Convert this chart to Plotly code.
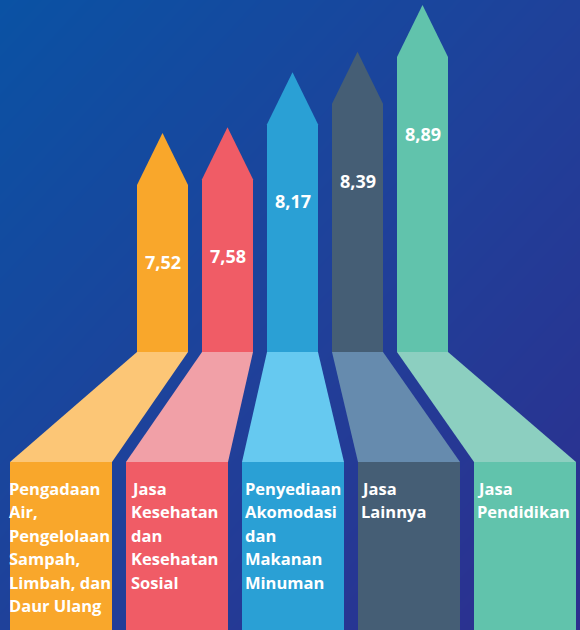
import plotly.graph_objects as go

# data
categories = [
    "Pengadaan\nAir,\nPengelolaan\nSampah,\nLimbah, dan\nDaur Ulang",
    "Jasa\nKesehatan\ndan\nKesehatan\nSosial",
    "Penyediaan\nAkomodasi\ndan\nMakanan\nMinuman",
    "Jasa\nLainnya",
    "Jasa\nPendidikan",
]
values = [7.52, 7.58, 8.17, 8.39, 8.89]
value_labels = ["7,52", "7,58", "8,17", "8,39", "8,89"]

arrow_colors = ["#F9A72B", "#F05C66", "#2AA0D5", "#455E75", "#61C3AC"]
ramp_colors = ["#FCC676", "#F1A0A7", "#66C9F0", "#668BAE", "#8CCFC0"]

# layout (pixels)
W, H = 580, 630
PXU = 93.4                  # px per value unit
Y_TOP = 9.5
Y_BOT = Y_TOP - H / PXU
SHAFT_X0, SHAFT_STEP, SHAFT_HW = 162.5, 65, 25.5
BOX_X0, BOX_STEP, BOX_HW = 61, 116, 51
HEAD = 52 / PXU
SHAFT_BOTTOM = Y_TOP - 352 / PXU
BOX_TOP = Y_TOP - 462 / PXU
TEXT_PAD = [-3, 3, 1, 1, 1]
FONT = "Open Sans"

fig = go.Figure()

# background gradient
fig.add_trace(go.Heatmap(
    x=[0, W], y=[Y_BOT, Y_TOP],
    z=[[0.5, 1.0], [0.0, 0.5]],
    zsmooth="best",
    colorscale=[[0, "#0A52A4"], [0.5, "#1F419A"], [1, "#2D2E8E"]],
    showscale=False, hoverinfo="skip",
))

for i, (cat, v) in enumerate(zip(categories, values)):
    cx = SHAFT_X0 + i * SHAFT_STEP
    bx = BOX_X0 + i * BOX_STEP

    # box at the bottom
    fig.add_trace(go.Scatter(
        x=[bx - BOX_HW, bx + BOX_HW, bx + BOX_HW, bx - BOX_HW, bx - BOX_HW],
        y=[BOX_TOP, BOX_TOP, Y_BOT, Y_BOT, BOX_TOP],
        fill="toself", fillcolor=arrow_colors[i], mode="lines",
        line=dict(width=0), hoverinfo="skip", showlegend=False,
    ))
    # perspective ramp
    fig.add_trace(go.Scatter(
        x=[cx - SHAFT_HW, cx + SHAFT_HW, bx + BOX_HW, bx - BOX_HW, cx - SHAFT_HW],
        y=[SHAFT_BOTTOM, SHAFT_BOTTOM, BOX_TOP, BOX_TOP, SHAFT_BOTTOM],
        fill="toself", fillcolor=ramp_colors[i], mode="lines",
        line=dict(width=0), hoverinfo="skip", showlegend=False,
    ))
    # arrow
    fig.add_trace(go.Scatter(
        x=[cx - SHAFT_HW, cx - SHAFT_HW, cx, cx + SHAFT_HW, cx + SHAFT_HW, cx - SHAFT_HW],
        y=[SHAFT_BOTTOM, v, v + HEAD, v, SHAFT_BOTTOM, SHAFT_BOTTOM],
        fill="toself", fillcolor=arrow_colors[i], mode="lines",
        line=dict(width=0), hoverinfo="skip", showlegend=False,
    ))

    fig.add_annotation(
        x=cx, y=v, yshift=-77, text="<b>" + value_labels[i] + "</b>",
        showarrow=False, xanchor="center", yanchor="middle",
        font=dict(family=FONT, size=18, color="white"),
    )

    for k, line in enumerate(cat.split("\n")):
        fig.add_annotation(
            x=bx - BOX_HW, xshift=TEXT_PAD[i], y=BOX_TOP, yshift=-(26 + k * 23.5),
            text="<b>" + line + "</b>", showarrow=False,
            xanchor="left", yanchor="middle",
            font=dict(family=FONT, size=16.5, color="white"),
        )

fig.update_layout(
    width=W, height=H,
    margin=dict(l=0, r=0, t=0, b=0),
    paper_bgcolor="#1F419A", plot_bgcolor="#1F419A",
    xaxis=dict(range=[0, W], visible=False, fixedrange=True),
    yaxis=dict(range=[Y_BOT, Y_TOP], visible=False, fixedrange=True),
    showlegend=False,
)

fig.write_html("out.html", config={"displayModeBar": False},
               post_script="document.body.style.margin='0';")
